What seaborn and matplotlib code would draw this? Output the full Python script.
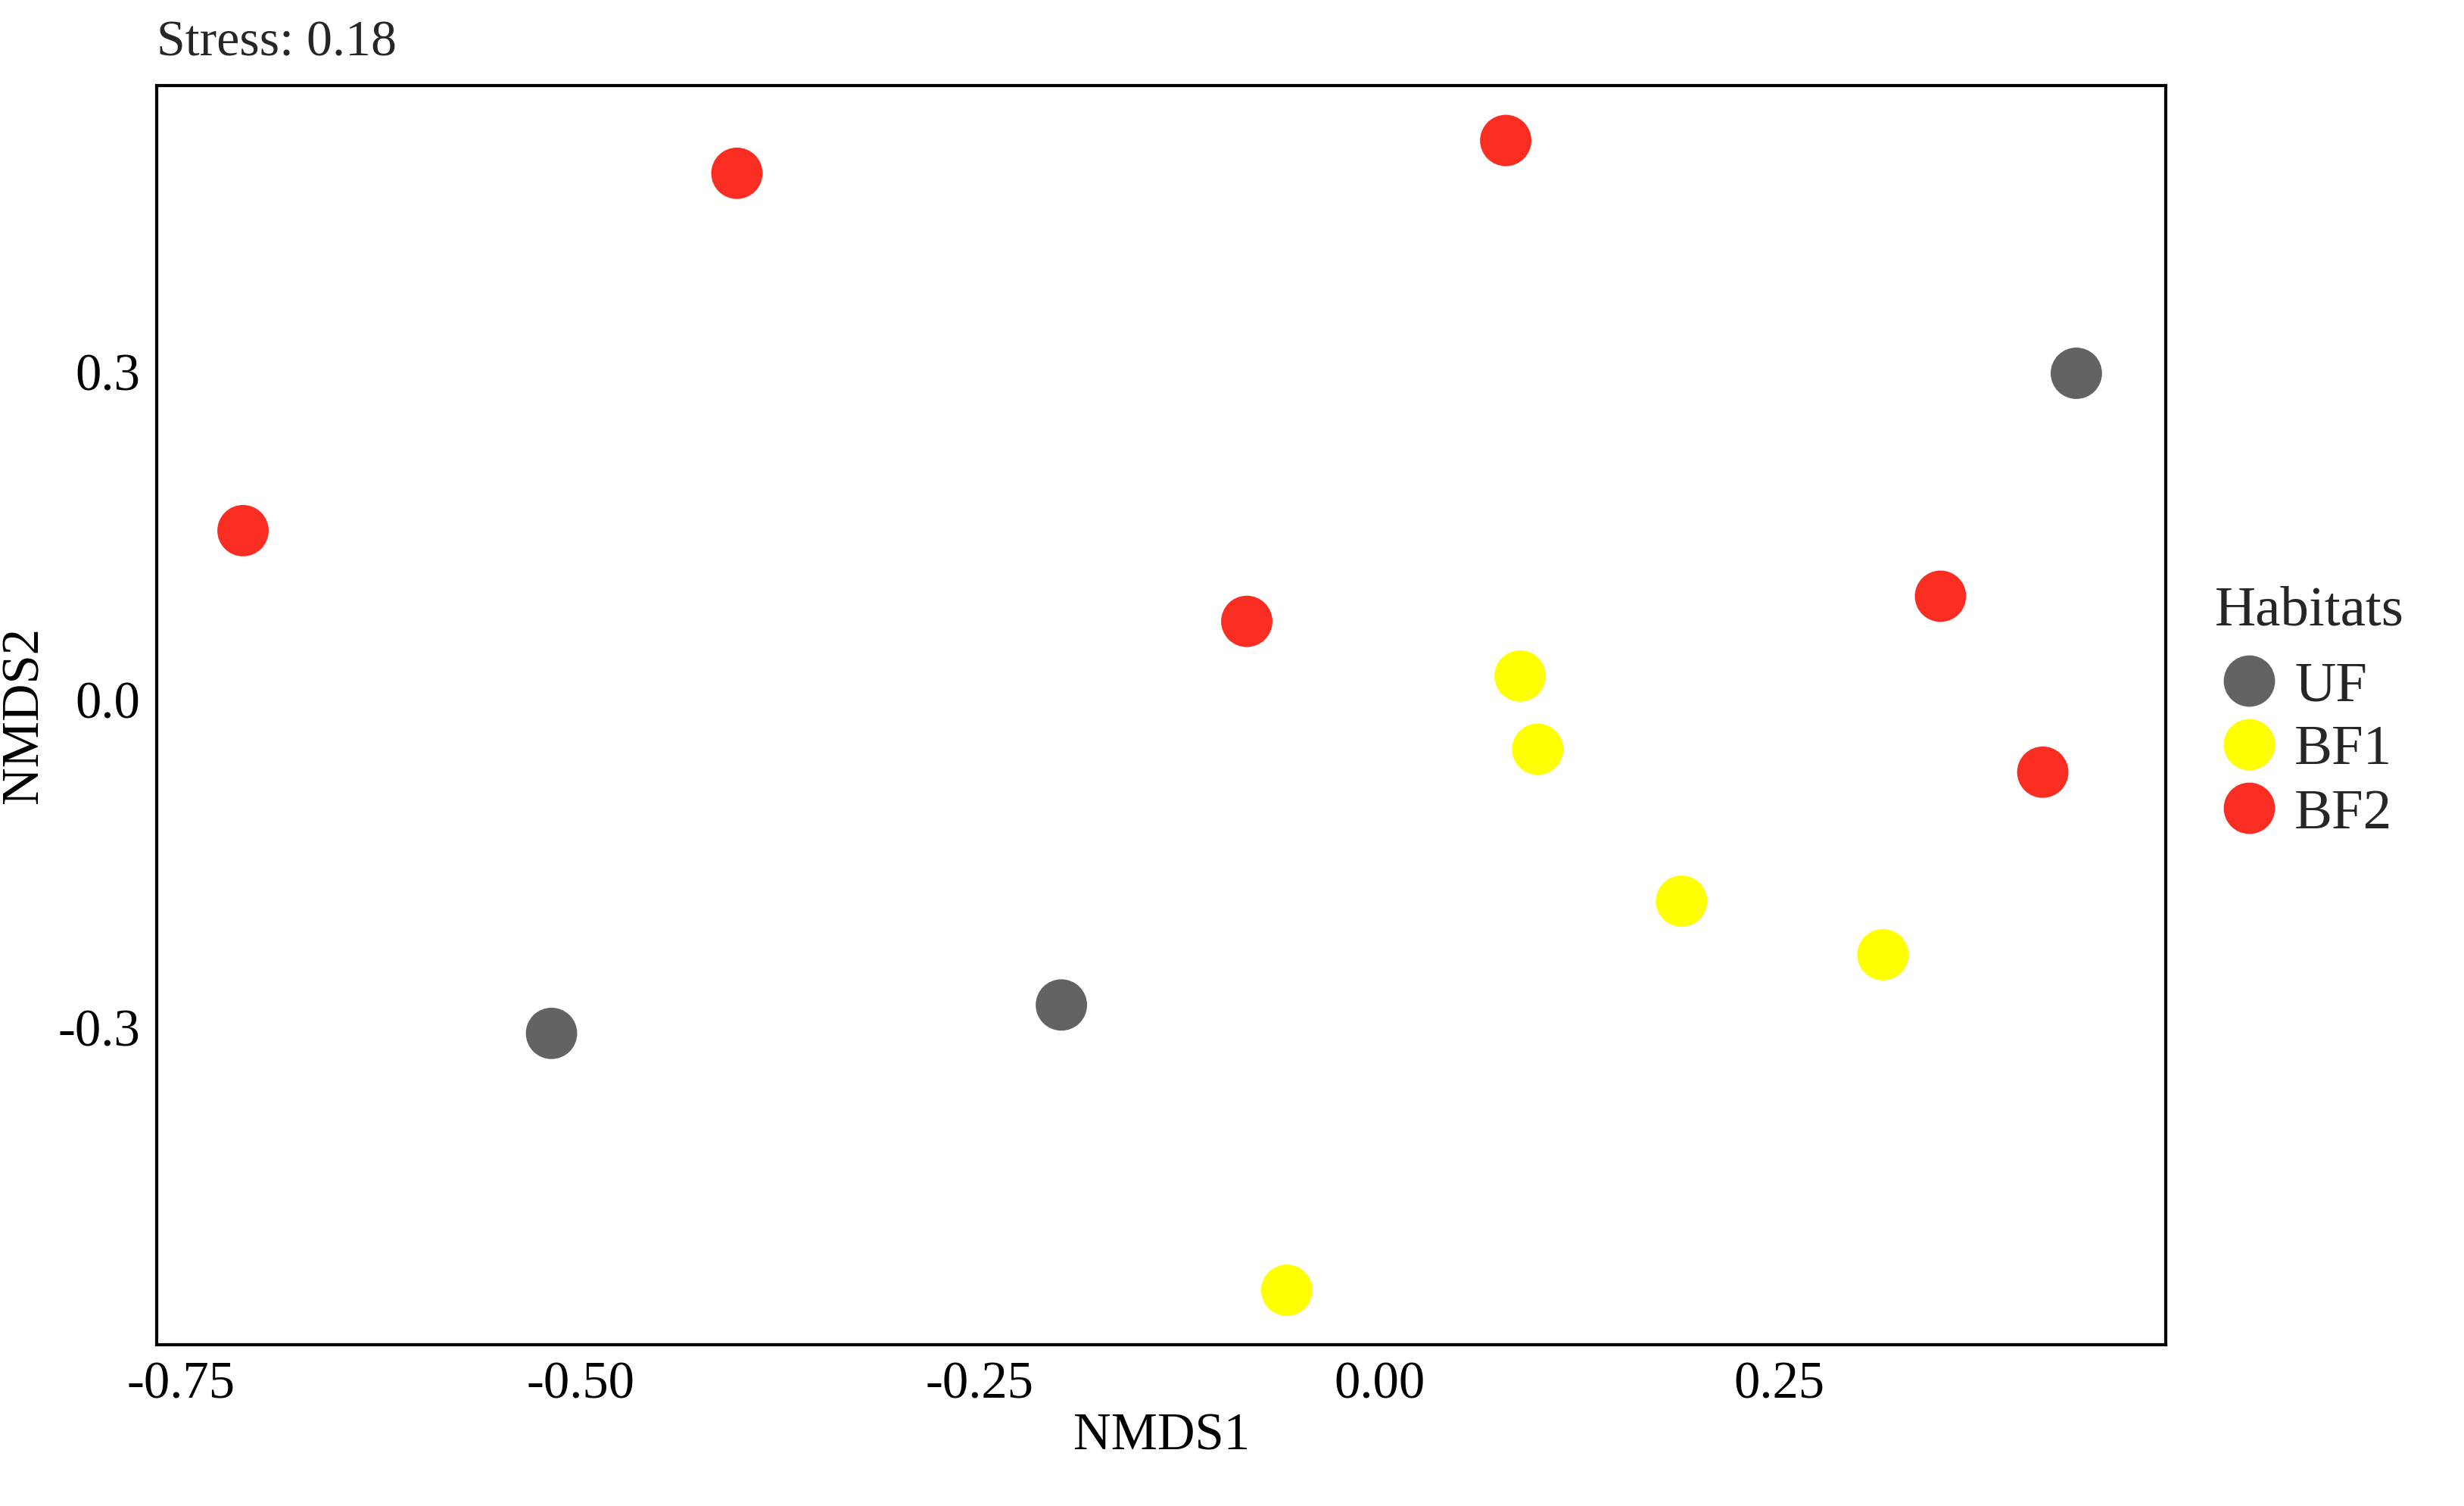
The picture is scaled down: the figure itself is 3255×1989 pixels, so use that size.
import matplotlib
matplotlib.use('Agg')
import matplotlib.pyplot as plt
import pandas as pd
import seaborn as sns

# NMDS scores
nmds1 = [-0.711, -0.402, 0.079, -0.083, 0.351, 0.415,
         0.436, -0.518, -0.199,
         0.088, 0.099, 0.189, 0.315, -0.058]
nmds2 = [0.155, 0.482, 0.512, 0.072, 0.095, -0.066,
         0.299, -0.305, -0.279,
         0.022, -0.045, -0.184, -0.233, -0.540]
habitat = ['BF2'] * 6 + ['UF'] * 3 + ['BF1'] * 5

habitat_order = ['UF', 'BF1', 'BF2']
habitat_colors = {'UF': '#636363', 'BF1': '#FFFF00', 'BF2': '#F92D22'}
stress = 0.18

x_ticks = [-0.75, -0.50, -0.25, 0.00, 0.25]
y_ticks = [-0.3, 0.0, 0.3]

df = pd.DataFrame({'NMDS1': nmds1, 'NMDS2': nmds2, 'Habitats': habitat})

sns.set_style('white')
plt.rcParams['font.family'] = ['Liberation Serif', 'DejaVu Serif']

fig = plt.figure(figsize=(10.85, 6.63), dpi=300)
ax = fig.add_axes([0.0636, 0.107, 0.8154, 0.836])

sns.scatterplot(data=df, x='NMDS1', y='NMDS2', hue='Habitats',
                hue_order=habitat_order, palette=habitat_colors,
                s=265, linewidth=0, ax=ax)

ax.set_xlim(-0.765, 0.492)
ax.set_ylim(-0.590, 0.562)
ax.set_xticks(x_ticks)
ax.set_xticklabels(['%.2f' % v for v in x_ticks])
ax.set_yticks(y_ticks)
ax.set_yticklabels(['%.1f' % v for v in y_ticks])
ax.tick_params(axis='both', direction='out', length=2.2, width=0.65,
               color='#333333', labelsize=16.5, labelcolor='black', pad=3)
for sp in ax.spines.values():
    sp.set_color('black')
    sp.set_linewidth(1.0)

ax.set_xlabel('NMDS1', fontsize=16.5, color='black', labelpad=1)
ax.set_ylabel('NMDS2', fontsize=16.5, color='black', labelpad=3)
ax.text(0.0, 1.024, 'Stress: %.2f' % stress, transform=ax.transAxes,
        fontsize=16.3, ha='left', va='baseline')

leg = ax.legend(title='Habitats', loc='upper left',
                bbox_to_anchor=(0.8898, 0.626), bbox_transform=fig.transFigure,
                frameon=False, fontsize=18, title_fontsize=18,
                markerscale=1.0, handletextpad=0.2, labelspacing=0.21,
                borderaxespad=0, handlelength=1.2)
leg._legend_box.align = 'left'
leg._legend_box.sep = 7.5

fig.savefig('out.png', dpi=300)
